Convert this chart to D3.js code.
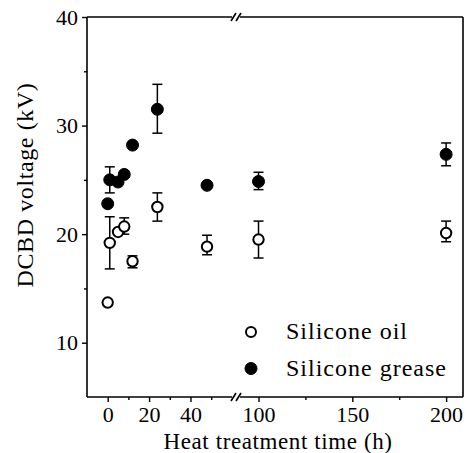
<!DOCTYPE html>
<meta charset="utf-8">
<script src="https://cdn.jsdelivr.net/npm/d3@7/dist/d3.min.js"></script>
<style>
body{margin:0;background:#fff}
svg{display:block;font-family:"Liberation Serif","Times New Roman",serif}
text{fill:#000}
</style>
<body>
<script>

// data
var hours      = [0, 1, 5, 8, 12, 24, 48, 100, 200];
var oilMean    = [13.7, 19.2, 20.2, 20.7, 17.5, 22.5, 18.85, 19.5, 20.1];
var oilLow     = [null, 16.8, null, 20.0, 16.9, 21.2, 18.1, 17.8, 19.3];
var oilHigh    = [null, 21.6, null, 21.5, 18.0, 23.8, 19.9, 21.2, 21.2];
var greaseMean = [22.8, 25.0, 24.8, 25.5, 28.2, 31.5, 24.5, 24.85, 27.35];
var greaseLow  = [null, 23.8, null, null, null, 29.3, null, 24.1, 26.3];
var greaseHigh = [null, 26.2, null, null, null, 33.8, null, 25.7, 28.4];

var xTicksLeft  = [0, 20, 40];
var xTicksRight = [100, 150, 200];
var yTicks      = [10, 20, 30, 40];
var legendNames = ["Silicone oil", "Silicone grease"];

var W = 466, H = 453;
var mLeft = 87, mRight = 463, mTop = 17, mBottom = 397, brk = 236;

// broken x axis: two linear pieces
var xL = d3.scaleLinear().domain([-10, 62]).range([mLeft, brk]);
var xR = d3.scaleLinear().domain([88, 209]).range([brk, mRight]);
function x(t) { return t <= 62 ? xL(t) : xR(t); }
var y = d3.scaleLinear().domain([5, 40]).range([mBottom, mTop]);

var svg = d3.select("body").append("svg").attr("width", W).attr("height", H);

// frame (top and bottom lines are cut at the break)
var frame = svg.append("g").attr("stroke", "#000").attr("stroke-width", 1.6).attr("fill", "none");
[mTop, mBottom].forEach(function(yy) {
    frame.append("line").attr("x1", mLeft).attr("x2", brk - 4).attr("y1", yy).attr("y2", yy);
    frame.append("line").attr("x1", brk + 4).attr("x2", mRight).attr("y1", yy).attr("y2", yy);
    [-3, 2].forEach(function(dx) {
        frame.append("line")
            .attr("x1", brk + dx - 2).attr("y1", yy + 4)
            .attr("x2", brk + dx + 3).attr("y2", yy - 4);
    });
});
frame.append("line").attr("x1", mLeft).attr("x2", mLeft).attr("y1", mTop).attr("y2", mBottom);
frame.append("line").attr("x1", mRight).attr("x2", mRight).attr("y1", mTop).attr("y2", mBottom);

// axes
function styleAxis(g) {
    g.attr("font-family", null).attr("font-size", null);
    g.select(".domain").remove();
    g.selectAll(".tick line").attr("stroke", "#000").attr("stroke-width", 1.4);
    g.selectAll("text").attr("font-size", 22).attr("fill", "#000");
}
svg.append("g").attr("transform", "translate(0," + mBottom + ")")
    .call(d3.axisBottom(xL).tickValues(xTicksLeft).tickSize(5).tickPadding(4))
    .call(styleAxis);
svg.append("g").attr("transform", "translate(0," + mBottom + ")")
    .call(d3.axisBottom(xR).tickValues(xTicksRight).tickSize(5).tickPadding(4))
    .call(styleAxis);
svg.append("g").attr("transform", "translate(0," + mBottom + ")")
    .call(d3.axisBottom(xL).tickValues([10, 30, 50]).tickSize(3).tickFormat(""))
    .call(styleAxis);
svg.append("g").attr("transform", "translate(0," + mBottom + ")")
    .call(d3.axisBottom(xR).tickValues([125, 175]).tickSize(3).tickFormat(""))
    .call(styleAxis);
svg.append("g").attr("transform", "translate(" + mLeft + ",0)")
    .call(d3.axisLeft(y).tickValues(yTicks).tickSize(5).tickPadding(4))
    .call(styleAxis);
svg.append("g").attr("transform", "translate(" + mLeft + ",0)")
    .call(d3.axisLeft(y).tickValues([15, 25, 35]).tickSize(3).tickFormat(""))
    .call(styleAxis);

// axis titles
svg.append("text")
    .attr("x", 278).attr("y", 449)
    .attr("text-anchor", "middle").attr("font-size", 23).attr("letter-spacing", 0.6)
    .text("Heat treatment time (h)");
svg.append("text")
    .attr("transform", "translate(33,185) rotate(-90)")
    .attr("text-anchor", "middle").attr("font-size", 24).attr("letter-spacing", 0.6)
    .text("DCBD voltage (kV)");

// error bars + markers
function series(mean, lo, hi, filled) {
    var g = svg.append("g");
    var rows = hours.map(function(h, i) { return {h: h, m: mean[i], lo: lo[i], hi: hi[i]}; });
    var err = rows.filter(function(d) { return d.lo != null; });
    var eb = g.selectAll("g.err").data(err).enter().append("g")
        .attr("stroke", "#000").attr("stroke-width", 1.5);
    eb.append("line")
        .attr("x1", function(d) { return x(d.h); }).attr("x2", function(d) { return x(d.h); })
        .attr("y1", function(d) { return y(d.lo); }).attr("y2", function(d) { return y(d.hi); });
    ["lo", "hi"].forEach(function(k) {
        eb.append("line")
            .attr("x1", function(d) { return x(d.h) - 5; }).attr("x2", function(d) { return x(d.h) + 5; })
            .attr("y1", function(d) { return y(d[k]); }).attr("y2", function(d) { return y(d[k]); });
    });
    g.selectAll("circle").data(rows).enter().append("circle")
        .attr("cx", function(d) { return x(d.h); })
        .attr("cy", function(d) { return y(d.m); })
        .attr("r", filled ? 6 : 5.2)
        .attr("fill", filled ? "#000" : "#fff")
        .attr("stroke", "#000").attr("stroke-width", filled ? 1 : 2);
}
series(oilMean, oilLow, oilHigh, false);
series(greaseMean, greaseLow, greaseHigh, true);

// legend
var leg = svg.append("g").selectAll("g").data(legendNames).enter().append("g")
    .attr("transform", function(d, i) { return "translate(251," + (332 + i * 36.5) + ")"; });
leg.append("circle")
    .attr("r", function(d, i) { return i ? 6 : 5; })
    .attr("fill", function(d, i) { return i ? "#000" : "#fff"; })
    .attr("stroke", "#000").attr("stroke-width", function(d, i) { return i ? 1 : 2; });
leg.append("text")
    .attr("x", 35).attr("y", 7).attr("font-size", 24).attr("letter-spacing", 1)
    .text(function(d) { return d; });
</script>
